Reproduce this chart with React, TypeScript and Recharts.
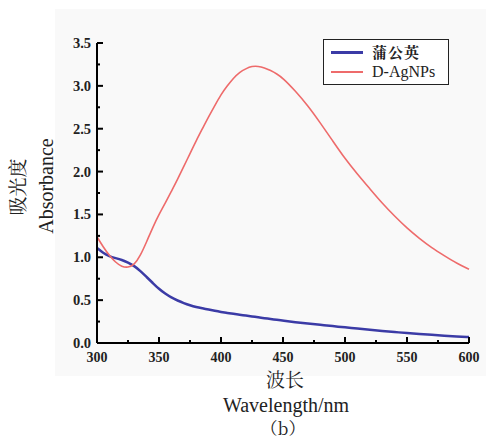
import React from 'react';
import { LineChart, Line, XAxis, YAxis, Legend } from 'recharts';

const wavelengths = [
  300, 305, 310, 315, 320, 325, 330, 335, 340, 345, 350, 355, 360, 365, 370, 375,
  380, 385, 390, 395, 400, 405, 410, 415, 420, 425, 430, 435, 440, 445, 450,
  460, 470, 480, 490, 500, 510, 520, 530, 540, 550, 560, 570, 580, 590, 600,
];
const dandelion = [
  1.11, 1.05, 1.01, 0.99, 0.97, 0.94, 0.9, 0.84, 0.77, 0.7, 0.63, 0.575, 0.53, 0.495, 0.465, 0.44,
  0.42, 0.405, 0.39, 0.375, 0.362, 0.351, 0.34, 0.33, 0.32, 0.31, 0.3, 0.29, 0.28, 0.27, 0.26,
  0.243, 0.227, 0.212, 0.197, 0.183, 0.168, 0.154, 0.14, 0.128, 0.116, 0.105, 0.095, 0.085, 0.077, 0.07,
];
const agnps = [
  1.24, 1.12, 1.02, 0.94, 0.89, 0.88, 0.91, 1.02, 1.18, 1.35, 1.5, 1.63, 1.77, 1.91, 2.06, 2.21,
  2.36, 2.5, 2.64, 2.77, 2.9, 3.0, 3.09, 3.16, 3.2, 3.23, 3.23, 3.21, 3.18, 3.14, 3.09,
  2.94, 2.77, 2.57, 2.36, 2.15, 1.97, 1.8, 1.63, 1.48, 1.34, 1.22, 1.11, 1.02, 0.93, 0.86,
];
const xTicks = [300, 325, 350, 375, 400, 425, 450, 475, 500, 525, 550, 575, 600];
const yTicks = [0, 0.25, 0.5, 0.75, 1, 1.25, 1.5, 1.75, 2, 2.25, 2.5, 2.75, 3, 3.25, 3.5];
const seriesNames = ['蒲公英', 'D-AgNPs'];
const seriesColors = ['#3b3ba6', '#ee6b6b'];

const data = wavelengths.map((w, i) => ({ w, a: dandelion[i], b: agnps[i] }));

const SERIF = '"Liberation Serif", serif';
const CJK = '"Noto Serif CJK SC", "Noto Sans CJK SC", serif';

const XTick = (props: any) => {
  const { x, y, payload } = props;
  const v = payload.value;
  const major = v % 50 === 0;
  return (
    <g>
      <line x1={x} x2={x} y1={y} y2={y - (major ? 6 : 3)} stroke="#000" strokeWidth={2} />
      {major && (
        <text x={x} y={y + 19} textAnchor="middle" style={{ fontFamily: SERIF, fontWeight: 'bold', fontSize: 14 }} fill="#222">
          {v}
        </text>
      )}
    </g>
  );
};

const YTick = (props: any) => {
  const { x, y, payload } = props;
  const v = payload.value;
  const major = Math.abs(v * 2 - Math.round(v * 2)) < 1e-6;
  return (
    <g>
      <line x1={x} x2={x + (major ? 6 : 3)} y1={y} y2={y} stroke="#000" strokeWidth={2} />
      {major && (
        <text x={x - 6} y={y + 5} textAnchor="end" style={{ fontFamily: SERIF, fontWeight: 'bold', fontSize: 14.5 }} fill="#222">
          {v.toFixed(1)}
        </text>
      )}
    </g>
  );
};

const YTitle = () => (
  <g>
    <text x={25} y={187} transform="rotate(-90, 25, 187)" textAnchor="middle" style={{ fontFamily: CJK, fontSize: 19 }} fill="#222">
      吸光度
    </text>
    <text x={53} y={186} transform="rotate(-90, 53, 186)" textAnchor="middle" style={{ fontFamily: SERIF, fontSize: 20 }} fill="#222">
      Absorbance
    </text>
  </g>
);

const XTitle = () => (
  <g>
    <text x={285} y={387} textAnchor="middle" style={{ fontFamily: CJK, fontSize: 19 }} fill="#222">
      波长
    </text>
    <text x={286} y={412} textAnchor="middle" style={{ fontFamily: SERIF, fontSize: 20 }} fill="#222">
      Wavelength/nm
    </text>
    <text x={283} y={435} textAnchor="middle" style={{ fontFamily: CJK, fontSize: 17 }} fill="#222">
      （b）
    </text>
  </g>
);

const LegendBox = () => (
  <div
    style={{
      position: 'relative',
      width: 126,
      height: 46,
      boxSizing: 'border-box',
      border: '1.5px solid #222',
      background: '#fff',
    }}
  >
    {seriesNames.map((name, i) => (
      <div key={name} style={{ position: 'absolute', left: 0, top: 2 + i * 20, height: 20, width: '100%' }}>
        <div
          style={{
            position: 'absolute',
            left: 7,
            top: 9,
            width: 32,
            height: i === 0 ? 2.5 : 1.8,
            background: seriesColors[i],
          }}
        />
        <span
          style={{
            position: 'absolute',
            left: 48,
            top: 0,
            lineHeight: '20px',
            fontSize: i === 0 ? 15 : 16,
            fontFamily: i === 0 ? CJK : SERIF,
            fontWeight: i === 0 ? 700 : 400,
            color: '#222',
            whiteSpace: 'nowrap',
            letterSpacing: i === 0 ? 1 : 0,
          }}
        >
          {name}
        </span>
      </div>
    ))}
  </div>
);

export default function App() {
  return (
    <div style={{ position: 'absolute', left: 0, top: 0, width: 486, height: 439, background: '#fff' }}>
      <div style={{ position: 'absolute', left: 55, top: 9, width: 431, height: 367, background: '#f9f9f9' }} />
      <div style={{ position: 'absolute', left: 0, top: 0 }}>
        <LineChart width={486} height={439} data={data} margin={{ top: 43, right: 17, bottom: 66, left: 57 }}>
          <XAxis
            dataKey="w"
            type="number"
            domain={[300, 600]}
            ticks={xTicks}
            interval={0}
            tickSize={0}
            tickMargin={0}
            tickLine={false}
            tick={<XTick />}
            axisLine={{ stroke: '#000', strokeWidth: 2 }}
            height={30}
            label={{ content: () => <XTitle /> }}
          />
          <YAxis
            type="number"
            domain={[0, 3.5]}
            ticks={yTicks}
            interval={0}
            tickSize={0}
            tickMargin={0}
            tickLine={false}
            tick={<YTick />}
            axisLine={{ stroke: '#000', strokeWidth: 2 }}
            width={40}
            label={{ content: () => <YTitle /> }}
          />
          <Legend
            layout="vertical"
            align="center"
            verticalAlign="middle"
            content={() => <LegendBox />}
            wrapperStyle={{ left: 323, top: 39, width: 126, height: 46 }}
          />
          <Line
            type="basis"
            dataKey="a"
            name={seriesNames[0]}
            stroke={seriesColors[0]}
            strokeWidth={2.5}
            dot={false}
            isAnimationActive={false}
          />
          <Line
            type="basis"
            dataKey="b"
            name={seriesNames[1]}
            stroke={seriesColors[1]}
            strokeWidth={1.6}
            dot={false}
            isAnimationActive={false}
          />
        </LineChart>
      </div>
    </div>
  );
}
